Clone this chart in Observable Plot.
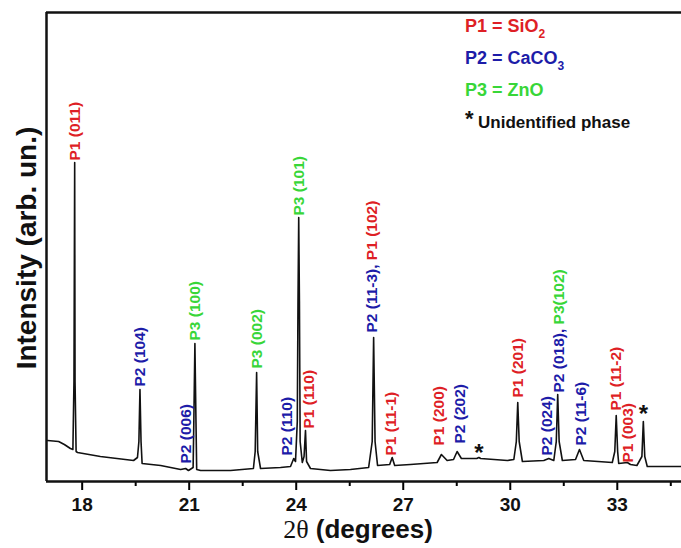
<!DOCTYPE html>
<html><head><meta charset="utf-8">
<script src="https://cdn.jsdelivr.net/npm/d3@7"></script>
<script src="https://cdn.jsdelivr.net/npm/@observablehq/plot@0.6"></script>
<style>
body{margin:0;background:#fff;}
#wrap{position:relative;width:681px;height:548px;overflow:hidden;font-family:"Liberation Sans",Arial,sans-serif;}
#wrap svg{position:absolute;left:0;top:0;}
.ov{position:absolute;white-space:nowrap;font-weight:bold;}
.leg{font-size:18px;line-height:20px;left:465px;}
.leg sub{font-size:12px;vertical-align:-6px;line-height:0;}
</style></head><body><div id="wrap"></div>
<script>
// ---- data ----
const twoTheta = [
  17.03,17.34,17.50,17.67,17.74,17.77,17.79,17.80,17.83,17.87,
  18.51,19.44,19.55,19.59,19.62,19.65,19.68,20.20,20.76,20.90,
  20.98,21.11,21.13,21.16,21.19,21.21,21.32,22.16,22.80,22.85,
  22.89,22.92,23.00,23.56,23.84,23.93,23.98,24.03,24.05,24.07,
  24.09,24.11,24.17,24.22,24.26,24.29,24.40,24.96,25.52,26.03,
  26.13,26.17,26.21,26.28,26.62,26.69,26.76,27.20,27.95,28.07,
  28.23,28.41,28.51,28.63,28.89,29.06,29.12,29.17,29.92,30.10,
  30.17,30.21,30.25,30.34,30.94,31.08,31.22,31.29,31.33,31.37,
  31.46,31.83,31.94,32.06,32.86,32.93,32.97,33.01,33.04,33.28,
  33.37,33.55,33.69,33.73,33.77,33.84,34.21,34.80
];
const intensity = [
  41,40,37,33,32,100,319,100,30,29,
  25,21,24,40,92,40,18,16,12,13,
  11,14,60,138,60,12,11,11,13,30,
  109,30,13,14,15,23,20,60,180,264,
  180,40,19,25,51,20,13,11,12,14,
  40,144,40,16,17,24,16,17,19,27,
  21,22,30,23,23,23,24,23,21,22,
  40,79,40,20,21,23,21,40,87,40,
  21,22,32,21,19,30,66,30,18,19,
  17,16,25,60,25,15,15,15
];
const xDomain = [17, 34.8];
const yDomain = [0, 469];
const majorTicks = [18, 21, 24, 27, 30, 33];
const minorTicks = [19.5, 22.5, 25.5, 28.5, 31.5, 34.5];

// peak labels (text start position)
const labelX     = [17.79, 19.62, 20.90, 21.16, 22.89, 23.75, 24.07, 24.35, 26.13, 26.66, 28.00, 28.59, 30.21, 31.03, 31.37, 31.97, 32.97, 33.31];
const labelY     = [321, 95, 18, 141, 113, 26, 266, 53, 149, 26, 36, 38, 84, 26, 89, 36, 71, 19];
const labelText1 = ["P1 (011)","P2 (104)","P2 (006)","P3 (100)","P3 (002)","P2 (110)","P3 (101)","P1 (110)","P2 (11-3), ","P1 (11-1)","P1 (200)","P2 (202)","P1 (201)","P2 (024)","P2 (018), ","P2 (11-6)","P1 (11-2)","P1 (003)"];
const labelPhase1 = ["P1","P2","P2","P3","P3","P2","P3","P1","P2","P1","P1","P2","P1","P2","P2","P2","P1","P1"];
const labelText2 = ["","","","","","","","","P1 (102)","","","","","","P3(102)","","",""];
const labelPhase2 = ["","","","","","","","","P1","","","","","","P3","","",""];

// unidentified peaks (*)
const starX = [29.12, 33.73];
const starY = [34, 73];

const phaseColor = {P1: "#de1f26", P2: "#1d1ca8", P3: "#38d638"};

// ---- build ----
const curve = twoTheta.map((t, i) => ({t, I: intensity[i]}));
const labels = labelX.map((x, i) => ({x, y: labelY[i], text: labelText1[i] + labelText2[i], c1: phaseColor[labelPhase1[i]], t1: labelText1[i], t2: labelText2[i], c2: phaseColor[labelPhase2[i]] || "#000"}));
const stars = starX.map((x, i) => ({x, y: starY[i]}));

const chart = Plot.plot({
  width: 681,
  height: 548,
  marginLeft: 46,
  marginRight: 0,
  marginTop: 12,
  marginBottom: 67,
  style: {fontFamily: "'Liberation Sans', Arial, sans-serif", background: "white"},
  x: {domain: xDomain, axis: null},
  y: {domain: yDomain, axis: null},
  marks: [
    Plot.axisX(minorTicks, {anchor: "bottom", tickSize: 5, strokeWidth: 2, tickFormat: () => "", label: null}),
    Plot.axisX(majorTicks, {anchor: "bottom", tickSize: 9, tickPadding: 7, strokeWidth: 2, fontSize: 19, fontWeight: "bold", fill: "#111", label: null}),
    Plot.ruleY([yDomain[0], yDomain[1]], {stroke: "#111", strokeWidth: 2.5}),
    Plot.ruleX([xDomain[0]], {stroke: "#111", strokeWidth: 2.5}),
    Plot.line(curve, {x: "t", y: "I", stroke: "#111", strokeWidth: 1.6, curve: "linear"}),
    Plot.text(labels, {x: "x", y: "y", text: "text", fill: "c1", rotate: -90, textAnchor: "start", lineAnchor: "middle", fontSize: 15.5, fontWeight: "bold"}),
    Plot.text(stars, {x: "x", y: "y", text: () => "*", fill: "#111", fontSize: 24, fontWeight: "bold", textAnchor: "middle", lineAnchor: "middle", dy: 6})
  ]
});

// split two-colour labels into tspans
const ns = "http://www.w3.org/2000/svg";
chart.querySelectorAll("text").forEach(el => {
  const d = labels.find(l => l.t2 && l.text === el.textContent);
  if (d) {
    el.textContent = "";
    const s1 = document.createElementNS(ns, "tspan"); s1.setAttribute("fill", d.c1); s1.textContent = d.t1;
    const s2 = document.createElementNS(ns, "tspan"); s2.setAttribute("fill", d.c2); s2.textContent = d.t2;
    el.appendChild(s1); el.appendChild(s2);
  }
});

const wrap = document.getElementById("wrap");
wrap.appendChild(chart);

function ov(html, css, cls) {
  const d = document.createElement("div");
  d.className = "ov " + (cls || "");
  d.innerHTML = html;
  Object.assign(d.style, css);
  wrap.appendChild(d);
  return d;
}
// legend
ov('P1 = SiO<sub>2</sub>', {top: "16px", color: phaseColor.P1}, "leg");
ov('P2 = CaCO<sub>3</sub>', {top: "48px", color: phaseColor.P2}, "leg");
ov('P3 = ZnO', {top: "80px", color: phaseColor.P3}, "leg");
ov('<span style="font-size:22px;position:relative;top:-2px">*</span>&nbsp;<span style="font-size:17px">Unidentified phase</span>', {top: "110px", left: "465px", color: "#111", lineHeight: "22px"});
// axis titles
ov('<span style="font-family:\'Liberation Serif\',\'Times New Roman\',serif;font-weight:normal">2θ</span> (degrees)',
   {left: "208px", width: "300px", textAlign: "center", top: "515px", fontSize: "26px", lineHeight: "28px", color: "#111"});
ov('Intensity (arb. un.)', {left: "-123px", width: "300px", textAlign: "center", top: "233px", fontSize: "28px", lineHeight: "30px", color: "#111", transform: "rotate(-90deg)", transformOrigin: "50% 50%"});
</script>
</body></html>
